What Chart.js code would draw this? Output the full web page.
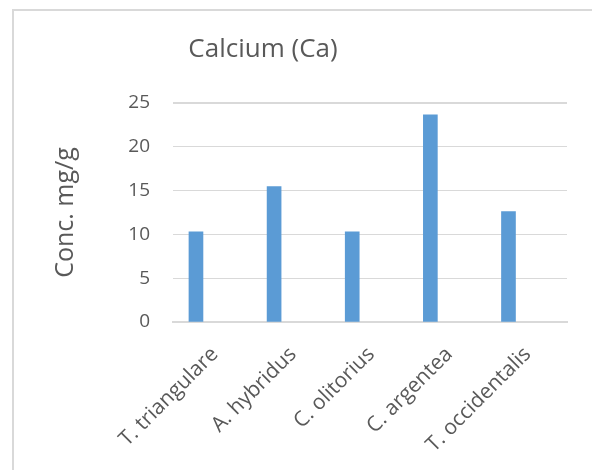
<!DOCTYPE html>
<html>
<head>
<meta charset="utf-8">
<script src="https://cdn.jsdelivr.net/npm/chart.js@4"></script>
<style>
  html, body { margin: 0; padding: 0; background: #fff; }
  #wrap { position: relative; width: 592px; height: 470px; }
  #frame { position: absolute; left: 12px; top: 9px; right: 0; bottom: 0;
           border-left: 2px solid #d9d9d9; border-top: 2px solid #d9d9d9; pointer-events: none; }
  canvas { position: absolute; left: 0; top: 0; }
</style>
</head>
<body>
<div id="wrap">
  <canvas id="chart" width="592" height="470"></canvas>
  <div id="frame"></div>
</div>
<script>
// Calcium content per plant species
const species = ['T. triangulare', 'A. hybridus', 'C. olitorius', 'C. argentea', 'T. occidentalis'];
const calcium = [10.3, 15.45, 10.3, 23.65, 12.6];
const yTicks = [0, 5, 10, 15, 20, 25];

const chartTitle = 'Calcium (Ca)';
const yAxisTitle = 'Conc. mg/g';

const FONT = '"Open Sans", sans-serif';
const TEXT = '#595959';
const GRID = '#d9d9d9';

// Title centred over the plot block, drawn on the canvas
const titlePlugin = {
  id: 'plotTitle',
  afterDraw(chart) {
    const ctx = chart.ctx;
    ctx.save();
    ctx.font = '26px ' + FONT;
    ctx.fillStyle = TEXT;
    ctx.textAlign = 'center';
    ctx.textBaseline = 'middle';
    ctx.fillText(chartTitle, 263, 50);
    ctx.restore();
  }
};

new Chart(document.getElementById('chart'), {
  type: 'bar',
  data: {
    datasets: [{
      data: calcium.map((v, i) => ({ x: i, y: v })),
      backgroundColor: '#5b9bd5',
      borderWidth: 0,
      barThickness: 14
    }]
  },
  options: {
    responsive: false,
    animation: false,
    layout: { padding: { left: 50, top: 103, right: 25, bottom: 0 } },
    plugins: { legend: { display: false }, tooltip: { enabled: false }, title: { display: false } },
    scales: {
      x: {
        type: 'linear',
        offset: false,
        // species sit at integer positions; the plot extends a little further on the right
        min: -0.294,
        max: 4.749,
        afterBuildTicks(scale) { scale.ticks = species.map((s, i) => ({ value: i })); },
        grid: { display: false, drawTicks: false },
        border: { display: true, color: GRID, width: 2 },
        ticks: {
          color: TEXT,
          font: { family: FONT, size: 21 },
          minRotation: 45,
          maxRotation: 45,
          autoSkip: false,
          padding: 20,
          labelOffset: 19,
          callback: (v) => species[v]
        },
        afterFit(scale) { scale.height = 148; }
      },
      y: {
        min: 0,
        max: 25,
        afterBuildTicks(scale) { scale.ticks = yTicks.map(v => ({ value: v })); },
        grid: {
          color: GRID,
          lineWidth: (ctx) => (ctx.tick && ctx.tick.value === 25 ? 2 : 1),
          drawTicks: false
        },
        border: { display: false },
        ticks: {
          color: TEXT,
          font: { family: FONT, size: 19 },
          padding: 23
        },
        title: {
          display: true,
          text: yAxisTitle,
          color: TEXT,
          font: { family: FONT, size: 25 },
          padding: { top: 1, bottom: 0 }
        },
        afterFit(scale) { scale.width = 123; }
      }
    }
  },
  plugins: [titlePlugin]
});
</script>
</body>
</html>
